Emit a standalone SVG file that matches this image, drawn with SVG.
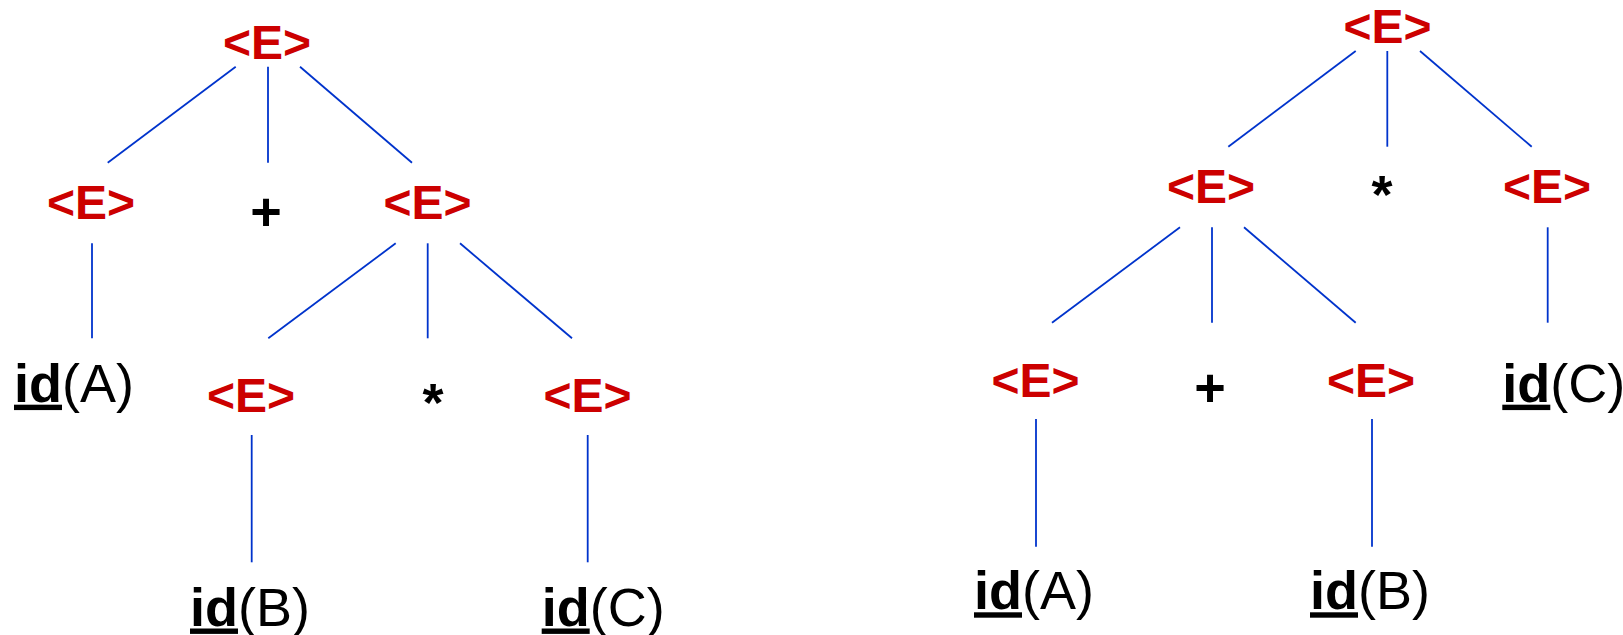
<svg xmlns="http://www.w3.org/2000/svg" width="1623" height="635" viewBox="0 0 1623 635">
<style>
.nt{font-family:"Liberation Sans",Arial,sans-serif;font-weight:bold;font-size:48px;fill:#CC0000;text-anchor:middle}
.op{font-family:"Liberation Sans",Arial,sans-serif;font-weight:bold;font-size:54px;fill:#000;text-anchor:middle}
.id{font-family:"Liberation Sans",Arial,sans-serif;font-size:54px;fill:#000}
.id .u{font-weight:bold;text-decoration:underline}
.c line{stroke:#0033CC;stroke-width:1.8;fill:none}
</style>
<rect width="1623" height="635" fill="#fff"/>
<g class="c" id="connectors">
<line x1="235.7" y1="66.7" x2="107.7" y2="162.7"/>
<line x1="268" y1="66.7" x2="268" y2="162.7"/>
<line x1="300" y1="66.7" x2="412" y2="162.7"/>
<line x1="92" y1="243.3" x2="92" y2="338.3"/>
<line x1="395.7" y1="243.3" x2="268.3" y2="338.3"/>
<line x1="427.7" y1="243.3" x2="427.7" y2="338.3"/>
<line x1="460" y1="243.3" x2="572" y2="338.3"/>
<line x1="251.7" y1="435" x2="251.7" y2="562.3"/>
<line x1="587.7" y1="435" x2="587.7" y2="562.3"/>
<line x1="1355.7" y1="51" x2="1228.3" y2="146.7"/>
<line x1="1387.3" y1="51" x2="1387.3" y2="146.7"/>
<line x1="1420" y1="51" x2="1531.7" y2="146.7"/>
<line x1="1180" y1="227.3" x2="1052" y2="322.7"/>
<line x1="1212" y1="227.3" x2="1212" y2="322.7"/>
<line x1="1244" y1="227.3" x2="1355.7" y2="322.7"/>
<line x1="1547.7" y1="227.3" x2="1547.7" y2="322.7"/>
<line x1="1036" y1="419" x2="1036" y2="546.7"/>
<line x1="1372" y1="419" x2="1372" y2="546.7"/>
</g>
<g id="L-root"><text class="nt" x="267" y="59.3">&lt;E&gt;</text></g>
<g id="L-E1"><text class="nt" x="91" y="219">&lt;E&gt;</text></g>
<g id="L-plus"><text class="op" x="266" y="229.5">+</text></g>
<g id="L-E2"><text class="nt" x="427.5" y="219">&lt;E&gt;</text></g>
<g id="L-idA"><text class="id" x="14" y="401.7"><tspan class="u">id</tspan>(A)</text></g>
<g id="L-E3"><text class="nt" x="251" y="412">&lt;E&gt;</text></g>
<g id="L-star"><text class="op" x="433" y="421">*</text></g>
<g id="L-E4"><text class="nt" x="587.5" y="412">&lt;E&gt;</text></g>
<g id="L-idB"><text class="id" x="190" y="625.5"><tspan class="u">id</tspan>(B)</text></g>
<g id="L-idC"><text class="id" x="541.7" y="625.5"><tspan class="u">id</tspan>(C)</text></g>
<g id="R-root"><text class="nt" x="1387.5" y="43.3">&lt;E&gt;</text></g>
<g id="R-E1"><text class="nt" x="1211" y="203.3">&lt;E&gt;</text></g>
<g id="R-star"><text class="op" x="1382" y="213.3">*</text></g>
<g id="R-E2"><text class="nt" x="1547" y="203.3">&lt;E&gt;</text></g>
<g id="R-E3"><text class="nt" x="1035.5" y="397.3">&lt;E&gt;</text></g>
<g id="R-plus"><text class="op" x="1210" y="406.4">+</text></g>
<g id="R-E4"><text class="nt" x="1371" y="397.3">&lt;E&gt;</text></g>
<g id="R-idC"><text class="id" x="1502.3" y="401.7"><tspan class="u">id</tspan>(C)</text></g>
<g id="R-idA"><text class="id" x="974" y="609.3"><tspan class="u">id</tspan>(A)</text></g>
<g id="R-idB"><text class="id" x="1310" y="609.3"><tspan class="u">id</tspan>(B)</text></g>
</svg>
